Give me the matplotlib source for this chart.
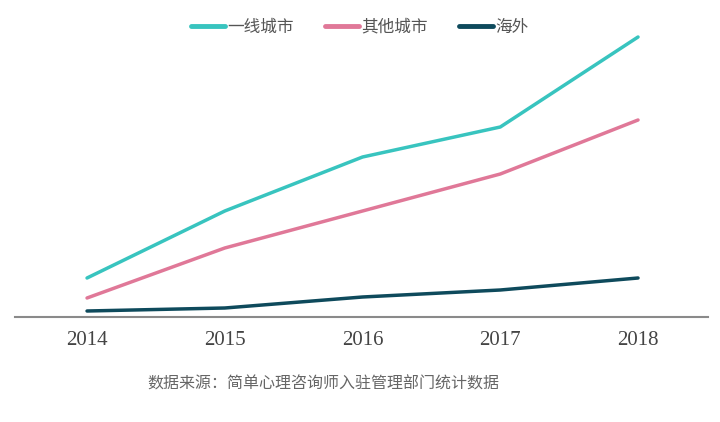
import matplotlib.pyplot as plt

plt.rcParams['font.family'] = ['Liberation Serif', 'Noto Sans CJK SC', 'DejaVu Sans']

# Data (relative units)
years = [2014, 2015, 2016, 2017, 2018]
tier1 = [39, 106, 160, 190, 280]
other = [19, 69, 106, 143, 197]
overseas = [6, 9, 20, 27, 39]

series_names = ["一线城市", "其他城市", "海外"]
colors = ["#38c4bf", "#e07898", "#0e4a5c"]

fig = plt.figure(figsize=(7.2, 4.22), dpi=100)
ax = fig.add_axes([15 / 720, 105 / 422, 693 / 720, 287 / 422])

for vals, name, c in zip([tier1, other, overseas], series_names, colors):
    ax.plot(years, vals, color=c, lw=2.5, label=name, solid_capstyle='round')

ax.set_xlim(2014 - 0.523, 2018 + 0.508)
ax.set_ylim(0, 287)
ax.set_xticks(years)
ax.set_xticklabels([str(y) for y in years], fontsize=15, color="#444444")
ax.tick_params(axis='x', length=0, pad=10)
ax.set_yticks([])
for s in ['top', 'right', 'left']:
    ax.spines[s].set_visible(False)
ax.spines['bottom'].set_color("#8a8a8a")
ax.spines['bottom'].set_linewidth(1.5)

leg = fig.legend(loc='center', bbox_to_anchor=(0.5, 1 - 27 / 422), ncol=3, frameon=False,
                 prop={'family': ['Noto Sans CJK SC'], 'size': 12}, labelcolor="#555555",
                 handlelength=2.0, handletextpad=0.15, columnspacing=1.9)
for h in leg.legend_handles:
    h.set_linewidth(3.5)

fig.text(147 / 720, 1 - 384 / 422, "数据来源：简单心理咨询师入驻管理部门统计数据",
         fontsize=11.5, color="#666666", va='center', ha='left',
         family=['Noto Sans CJK SC'])

fig.savefig("out.png", dpi=100)
